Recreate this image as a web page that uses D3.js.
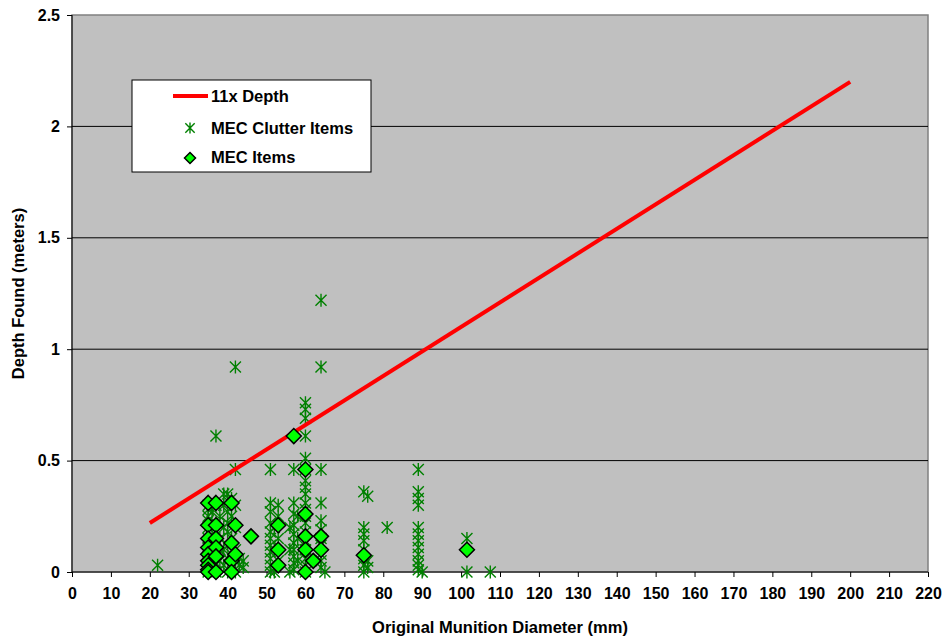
<!DOCTYPE html>
<html>
<head>
<meta charset="utf-8">
<script src="https://cdn.jsdelivr.net/npm/d3@7"></script>
<style>
  body { margin: 0; background: #fff; }
  text { font-family: "Liberation Sans", Arial, sans-serif; font-weight: bold; }
</style>
</head>
<body>
<svg id="chart" width="945" height="638"></svg>
<script>
// ---- data ----
const xTicks = [0,10,20,30,40,50,60,70,80,90,100,110,120,130,140,150,160,170,180,190,200,210,220];
const yTicks = [0,0.5,1,1.5,2,2.5];
const yTickLabels = ["0","0.5","1","1.5","2","2.5"];
const lineX = [20, 200];
const lineY = [0.22, 2.2];
const clutterPoints = [
  [22,0.03],
  [35,0.0],[35,0.01],[35,0.03],[35,0.05],[35,0.07],[35,0.09],[35,0.11],[35,0.13],[35,0.15],[35,0.18],[35,0.2],[35,0.23],[35,0.25],[35,0.28],[35,0.3],
  [36,0.02],[36,0.06],[36,0.12],[36,0.2],[36,0.27],
  [37,0.61],[37,0.0],[37,0.04],[37,0.08],[37,0.14],[37,0.22],[37,0.3],
  [38,0.05],[38,0.1],[38,0.15],[38,0.25],
  [39,0.35],[39,0.3],[39,0.2],[39,0.1],[39,0.03],
  [40,0.35],[40,0.32],[40,0.27],[40,0.22],[40,0.18],[40,0.12],[40,0.06],[40,0.0],
  [41,0.33],[41,0.25],[41,0.15],[41,0.08],[41,0.02],
  [42,0.92],[42,0.46],[42,0.3],[42,0.2],[42,0.1],[42,0.05],[42,0.0],
  [43,0.06],[43,0.03],[44,0.05],[44,0.02],
  [51,0.46],[51,0.31],[51,0.27],[51,0.22],[51,0.18],[51,0.15],[51,0.12],[51,0.09],[51,0.06],[51,0.03],[51,0.0],
  [52,0.2],[52,0.1],[52,0.0],
  [53,0.3],[53,0.25],[53,0.15],[53,0.05],
  [56,0.0],[56,0.1],[56,0.2],
  [57,0.46],[57,0.31],[57,0.26],[57,0.21],[57,0.17],[57,0.13],[57,0.1],[57,0.07],[57,0.04],[57,0.01],
  [58,0.05],[58,0.15],[58,0.25],
  [60,0.76],[60,0.73],[60,0.69],[60,0.61],[60,0.51],[60,0.46],[60,0.41],[60,0.38],[60,0.35],[60,0.31],[60,0.28],[60,0.25],[60,0.22],[60,0.18],[60,0.14],[60,0.1],[60,0.06],[60,0.03],[60,0.0],
  [64,1.22],[64,0.92],[64,0.46],[64,0.31],[64,0.23],[64,0.19],[64,0.15],[64,0.12],[64,0.08],[64,0.05],[64,0.02],
  [65,0.0],
  [75,0.36],[75,0.2],[75,0.17],[75,0.14],[75,0.1],[75,0.06],[75,0.03],[75,0.0],
  [76,0.34],[76,0.05],[76,0.02],
  [81,0.2],
  [89,0.46],[89,0.36],[89,0.33],[89,0.3],[89,0.2],[89,0.17],[89,0.14],[89,0.11],[89,0.08],[89,0.05],[89,0.03],[89,0.01],
  [90,0.0],
  [101.5,0.15],[101.5,0.0],
  [107.5,0.0]
];
const mecPoints = [
  [35,0.31],[35,0.21],[35,0.15],[35,0.11],[35,0.08],[35,0.05],[35,0.03],[35,0.01],[35,0.0],
  [37,0.31],[37,0.21],[37,0.15],[37,0.11],[37,0.07],[37,0.0],
  [41,0.31],[41,0.13],[41,0.05],[41,0.0],
  [42,0.21],[42,0.08],
  [46,0.16],
  [53,0.21],[53,0.1],[53,0.03],
  [57,0.61],
  [60,0.46],[60,0.26],[60,0.16],[60,0.1],[60,0.0],
  [62,0.05],
  [64,0.16],[64,0.1],
  [75,0.075],
  [101.5,0.1]
];
const legendLabels = ["11x Depth","MEC Clutter Items","MEC Items"];

// ---- layout ----
const svg = d3.select("#chart");
const L = 72, R = 928, T = 15, B = 572;
const x = d3.scaleLinear().domain([0,220]).range([L,R]);
const y = d3.scaleLinear().domain([0,2.5]).range([B,T]);
const FONT = "Liberation Sans, Arial, sans-serif";

// plot background
svg.append("rect").attr("x",L).attr("y",T).attr("width",R-L).attr("height",B-T)
  .attr("fill","#C0C0C0").attr("stroke","#808080").attr("stroke-width",1.5);

// gridlines
svg.append("g").selectAll("line").data(yTicks.filter(v=>v>0 && v<2.5)).join("line")
  .attr("x1",L).attr("x2",R).attr("y1",d=>y(d)).attr("y2",d=>y(d))
  .attr("stroke","#000").attr("stroke-width",1);

// axes
const yAxis = d3.axisLeft(y).tickValues(yTicks).tickFormat((d,i)=>yTickLabels[i]).tickSize(5).tickPadding(7);
const gy = svg.append("g").attr("transform",`translate(${L},0)`).call(yAxis);
gy.select(".domain").attr("stroke","#000").attr("d",`M0,${T}V${B}`);
gy.selectAll("text").attr("font-size",16).attr("font-family",FONT).attr("font-weight","bold").attr("fill","#000");

const xAxis = d3.axisBottom(x).tickValues(xTicks).tickFormat(d3.format("d")).tickSize(5).tickPadding(11);
const gx = svg.append("g").attr("transform",`translate(0,${B})`).call(xAxis);
gx.select(".domain").attr("stroke","#000").attr("d",`M${L},0H${R}`);
gx.selectAll("text").attr("font-size",16).attr("font-family",FONT).attr("font-weight","bold").attr("fill","#000");

// axis titles
svg.append("text").attr("x",(L+R)/2).attr("y",633).attr("text-anchor","middle")
  .attr("font-size",16.5).text("Original Munition Diameter (mm)");
svg.append("text").attr("transform",`translate(24,${(T+B)/2}) rotate(-90)`).attr("text-anchor","middle")
  .attr("font-size",16.5).text("Depth Found (meters)");

// marker helpers
function asterisk(g, cx, cy, s) {
  const p = d3.path();
  p.moveTo(cx, cy - s); p.lineTo(cx, cy + s);
  p.moveTo(cx - s*0.85, cy - s*0.85); p.lineTo(cx + s*0.85, cy + s*0.85);
  p.moveTo(cx - s*0.85, cy + s*0.85); p.lineTo(cx + s*0.85, cy - s*0.85);
  g.append("path").attr("d", p.toString()).attr("stroke","#008000").attr("stroke-width",1.4).attr("fill","none");
}
function diamondPath(cx, cy, s) {
  return `M${cx},${cy-s}L${cx+s},${cy}L${cx},${cy+s}L${cx-s},${cy}Z`;
}

// clutter
const gc = svg.append("g");
clutterPoints.forEach(d => asterisk(gc, x(d[0]), y(d[1]), 6.5));

// line
svg.append("line").attr("x1",x(lineX[0])).attr("y1",y(lineY[0]))
  .attr("x2",x(lineX[1])).attr("y2",y(lineY[1]))
  .attr("stroke","#FF0000").attr("stroke-width",4);

// MEC diamonds
svg.append("g").selectAll("path").data(mecPoints).join("path")
  .attr("d", d => diamondPath(x(d[0]), y(d[1]), 7.5))
  .attr("fill","#00FF00").attr("stroke","#000").attr("stroke-width",1.5);

// legend
const lg = svg.append("g");
lg.append("rect").attr("x",132).attr("y",80).attr("width",239).attr("height",92)
  .attr("fill","#fff").attr("stroke","#000").attr("stroke-width",1);
lg.append("line").attr("x1",173).attr("x2",208).attr("y1",96).attr("y2",96)
  .attr("stroke","#FF0000").attr("stroke-width",4);
asterisk(lg, 190, 128, 5.5);
lg.append("path").attr("d", diamondPath(190, 158, 5.5)).attr("fill","#00FF00").attr("stroke","#000").attr("stroke-width",1.5);
const ly = [102, 134, 163];
legendLabels.forEach((t,i) => {
  lg.append("text").attr("x",211).attr("y",ly[i]).attr("font-size",16.5).text(t);
});
</script>
</body>
</html>
